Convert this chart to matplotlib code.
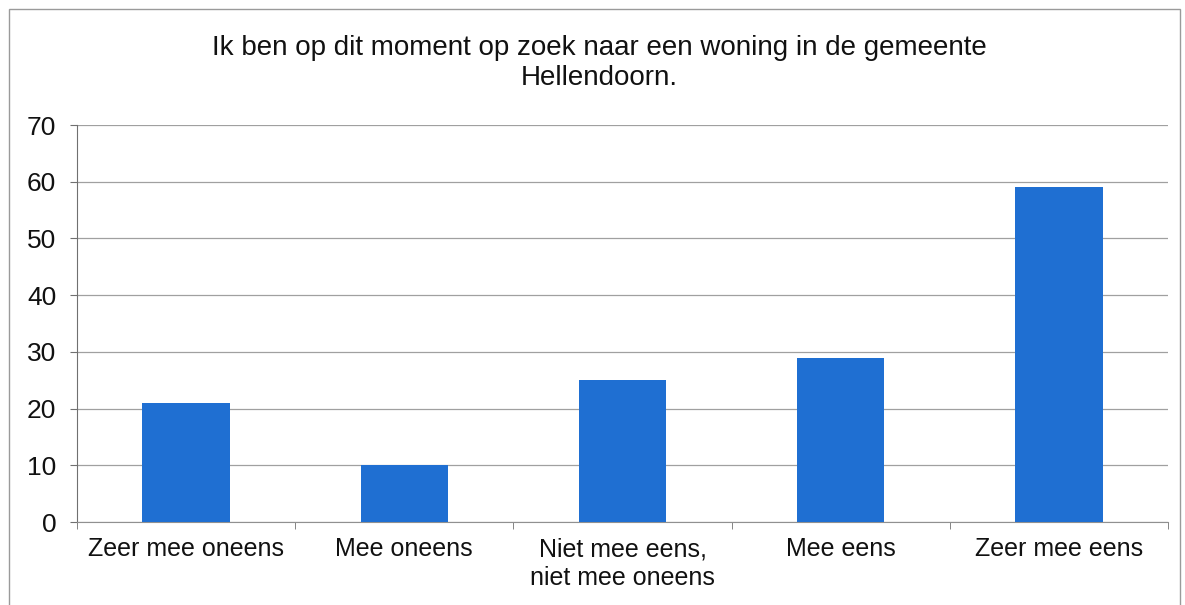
import matplotlib
matplotlib.use("Agg")
import matplotlib.pyplot as plt
from matplotlib.patches import Rectangle
import numpy as np

plt.rcParams['font.family'] = ['Liberation Sans', 'DejaVu Sans']

categories = ["Zeer mee oneens", "Mee oneens", "Niet mee eens,\nniet mee oneens", "Mee eens", "Zeer mee eens"]
values = [21, 10, 25, 29, 59]
yticks = [0, 10, 20, 30, 40, 50, 60, 70]
title = "Ik ben op dit moment op zoek naar een woning in de gemeente\nHellendoorn."

fig = plt.figure(figsize=(11.85, 6.05), dpi=100)
ax = fig.add_axes([77/1185, 1-522/605, (1168-77)/1185, (522-125)/605])

x = np.arange(len(categories))
ax.bar(x, values, width=0.4, color='#1f6fd2', zorder=3)
ax.set_xlim(-0.5, len(categories)-0.5)
ax.set_ylim(0, 70)
ax.set_yticks(yticks)
ax.set_yticklabels([str(v) for v in yticks], fontsize=19, color='#111111')
ax.set_xticks(x)
ax.set_xticklabels(categories, fontsize=18, linespacing=1.25, color='#111111')
ax.tick_params(axis='x', length=0, pad=11)
ax.tick_params(axis='y', length=5, color='#707070', pad=10)
# minor ticks at category boundaries
ax.set_xticks(np.arange(-0.5, len(categories)), minor=True)
ax.tick_params(axis='x', which='minor', length=5, color='#707070', direction='out')
ax.grid(axis='y', color='#a0a0a0', linewidth=0.9, zorder=0)
for s in ['top', 'right']:
    ax.spines[s].set_visible(False)
ax.spines['left'].set_color('#707070')
ax.spines['bottom'].set_color('#909090')

fig.text(0.506, 1-63/605, title, ha='center', va='center', fontsize=20,
         linespacing=1.2, color='#111111')

fig.add_artist(Rectangle((9/1185, -0.05), (1180-9)/1185, (605-9)/605+0.05,
                         transform=fig.transFigure, fill=False, edgecolor='#9a9a9a', linewidth=1.0))

fig.savefig("out.png", dpi=100)
